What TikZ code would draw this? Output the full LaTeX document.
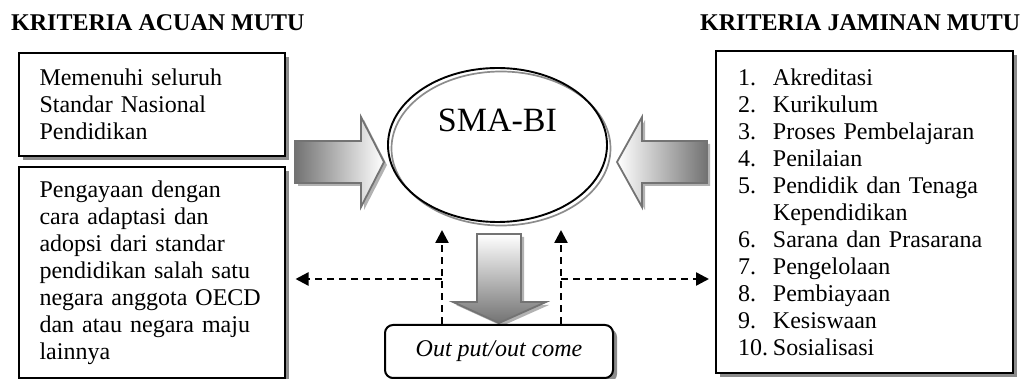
\documentclass[tikz,border=0pt]{standalone}
\usepackage{fontspec}
\setmainfont{Liberation Serif}
\usetikzlibrary{arrows.meta,shapes.geometric,shadows}
\newcommand\butir[1]{\makebox[35pt][l]{#1}}

\begin{document}
\begin{tikzpicture}[x=1pt,y=-1pt,
  every node/.style={font=\fontsize{24}{27}\selectfont},
  kotak/.style={draw,line width=2pt,fill=white,align=left,inner xsep=21pt,
    drop shadow={shadow xshift=4pt,shadow yshift=-4pt,fill=black!45,opacity=1}},
  judul/.style={font=\fontsize{24}{27}\selectfont\bfseries,inner sep=0pt,anchor=base west},
  blok/.style={draw=black!55,line width=1.8pt},
  bayang/.style={fill=black!30,draw=none,xshift=3pt,yshift=-3pt},
  panah/.style={dash pattern=on 7pt off 5pt,line width=2.4pt,-{Triangle[length=13pt,width=13pt]}}]
\useasboundingbox (0,0) rectangle (1026,379);

\node[judul] (judulkiri) at (11,31) {KRITERIA ACUAN MUTU};
\node[judul] (judulkanan) at (700,31) {KRITERIA JAMINAN MUTU};

\node[kotak,text width=224pt,minimum height=103pt] (acuan1) at (151.5,104.5)
  {Memenuhi seluruh\\ Standar Nasional\\ Pendidikan};
\node[kotak,text width=224pt,minimum height=211pt] (acuan2) at (151.5,272.5)
  {Pengayaan dengan\\ cara adaptasi dan\\ adopsi dari standar\\ pendidikan salah satu\\
   negara anggota OECD\\ dan atau negara maju\\ lainnya};
\node[kotak,text width=253pt,inner xsep=22pt,minimum height=322pt] (jaminan) at (864.5,212)
  {\butir{1.}Akreditasi\\ \butir{2.}Kurikulum\\ \butir{3.}Proses Pembelajaran\\
   \butir{4.}Penilaian\\ \butir{5.}Pendidik dan Tenaga\\ \butir{}Kependidikan\\
   \butir{6.}Sarana dan Prasarana\\ \butir{7.}Pengelolaan\\ \butir{8.}Pembiayaan\\
   \butir{9.}Kesiswaan\\ \butir{10.}Sosialisasi};

\draw[black!45,line width=1.7pt] (501,148.5) ellipse [x radius=109.5pt,y radius=77pt];
\node[ellipse,draw,line width=1.9pt,minimum width=219pt,minimum height=154pt,
  font=\fontsize{34}{40}\selectfont,text height=23pt,text depth=49pt] (sma) at (497.5,145) {SMA-BI};

% panah blok
\fill[bayang] (295,141) -- (361,141) -- (361,117) -- (384,162) -- (361,207) -- (361,183) -- (295,183) -- cycle;
\draw[blok,left color=black!55,right color=white]
  (295,141) -- (361,141) -- (361,117) -- (384,162) -- (361,207) -- (361,183) -- (295,183) -- cycle;
\fill[bayang] (707,141) -- (642,141) -- (642,117) -- (617,162) -- (642,207) -- (642,183) -- (707,183) -- cycle;
\draw[blok,left color=white,right color=black!55]
  (707,141) -- (642,141) -- (642,117) -- (617,162) -- (642,207) -- (642,183) -- (707,183) -- cycle;
\fill[bayang] (477,234) -- (521,234) -- (521,302) -- (546,302) -- (499,323) -- (453,302) -- (477,302) -- cycle;
\draw[blok,top color=white,bottom color=black!55]
  (477,234) -- (521,234) -- (521,302) -- (546,302) -- (499,323) -- (453,302) -- (477,302) -- cycle;

\node[kotak,rounded corners=8pt,minimum width=228pt,minimum height=53pt,align=center,inner xsep=4pt,
  font=\fontsize{24}{27}\selectfont\itshape] (keluaran) at (499,351.5) {Out put/out come};

\coordinate (kiri) at (442,230);
\coordinate (kanan) at (561,230);
\coordinate (simpangkiri) at (442,279);
\coordinate (simpangkanan) at (561,279);
\draw[panah] (keluaran.north -| kiri) -- (kiri);
\draw[panah] (keluaran.north -| kanan) -- (kanan);
\draw[panah,shorten >=10pt] (simpangkiri) -- (simpangkiri -| acuan2.east);
\draw[panah,shorten >=6pt] (simpangkanan) -- (simpangkanan -| jaminan.west);
\end{tikzpicture}
\end{document}
